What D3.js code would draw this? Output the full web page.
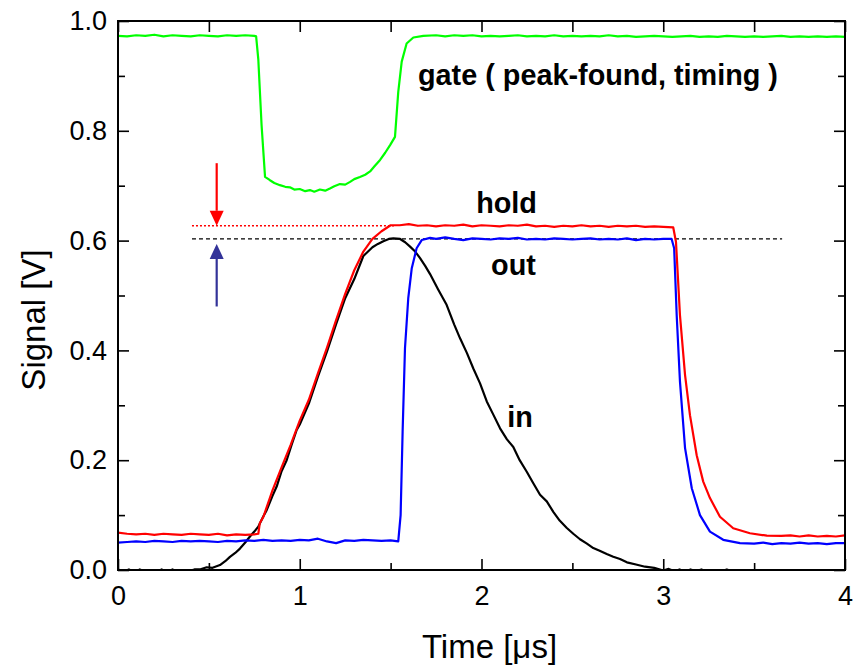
<!DOCTYPE html>
<html lang="en">
<head>
    <meta charset="UTF-8">
    <title>Peak hold signals</title>
    <script src="https://d3js.org/d3.v7.min.js"></script>
    <style>
        body { margin: 0; background: #fff; }
        text { font-family: "Liberation Sans", Arial, sans-serif; }
    </style>
</head>
<body>
    <div id="chart"></div>

    <script>
        // time in us, signal in V
        const gate = [
            [0, .973], [0.05, .972], [0.1, .974], [0.15, .973], [0.2, .975], [0.25, .972], [0.3, .974], [0.35, .973],
            [0.4, .972], [0.45, .974], [0.5, .973], [0.55, .972], [0.6, .974], [0.65, .973], [0.7, .974], [0.75, .973],
            [0.76, .972], [0.772, .93], [0.79, .81], [0.809, .716], [0.836, .710], [0.86, .705], [0.891, .701],
            [0.92, .698], [0.946, .697], [0.97, .693], [1.0, .694], [1.03, .690], [1.056, .692], [1.08, .689],
            [1.111, .693], [1.14, .691], [1.166, .695], [1.19, .699], [1.221, .703], [1.25, .702], [1.277, .707],
            [1.3, .712], [1.331, .716], [1.36, .720], [1.387, .726], [1.41, .735], [1.442, .747], [1.47, .760],
            [1.497, .774], [1.524, .789], [1.542, .871], [1.561, .926], [1.588, .959], [1.625, .970], [1.68, .973],
            [1.75, .974], [1.8, .972], [1.85, .974], [1.9, .973], [1.95, .974], [2.0, .972], [2.05, .973], [2.1, .972],
            [2.15, .973], [2.2, .974], [2.25, .972], [2.3, .973], [2.35, .972], [2.4, .974], [2.45, .972], [2.5, .973],
            [2.55, .972], [2.6, .973], [2.65, .972], [2.7, .974], [2.75, .972], [2.8, .973], [2.85, .971], [2.9, .972],
            [2.95, .973], [3.0, .972], [3.05, .971], [3.1, .972], [3.15, .973], [3.2, .971], [3.25, .972], [3.3, .971],
            [3.35, .973], [3.4, .972], [3.45, .971], [3.5, .972], [3.55, .971], [3.6, .972], [3.65, .973], [3.7, .971],
            [3.75, .972], [3.8, .971], [3.85, .972], [3.9, .971], [3.95, .972], [4.0, .971]
        ];

        const hold = [
            [0, .068], [0.05, .066], [0.1, .065], [0.15, .066], [0.2, .064], [0.25, .066], [0.3, .065], [0.35, .064],
            [0.4, .066], [0.45, .065], [0.5, .064], [0.55, .066], [0.6, .063], [0.65, .065], [0.7, .064], [0.75, .065],
            [0.772, .066], [0.78, .085], [0.8, .097], [0.85, .145], [0.9, .187], [0.95, .228], [1.0, .272], [1.05, .310],
            [1.1, .358], [1.15, .405], [1.2, .455], [1.25, .503], [1.3, .546], [1.35, .580], [1.4, .603], [1.45, .617],
            [1.5, .628], [1.55, .628], [1.6, .630], [1.65, .627], [1.7, .628], [1.75, .626], [1.8, .628], [1.85, .627],
            [1.9, .629], [1.95, .626], [2.0, .628], [2.05, .627], [2.1, .626], [2.15, .628], [2.2, .627], [2.25, .629],
            [2.3, .626], [2.35, .627], [2.4, .625], [2.45, .627], [2.5, .626], [2.55, .628], [2.6, .626], [2.65, .627],
            [2.7, .625], [2.75, .627], [2.8, .626], [2.85, .627], [2.9, .625], [2.95, .626], [3.0, .625], [3.055, .624],
            [3.07, .598], [3.092, .464], [3.12, .355], [3.147, .282], [3.184, .209], [3.22, .161], [3.257, .131],
            [3.312, .097], [3.385, .076], [3.477, .067], [3.57, .0625], [3.65, .062], [3.7, .063], [3.75, .061],
            [3.8, .063], [3.85, .061], [3.9, .062], [3.95, .061], [4.0, .063]
        ];

        const out = [
            [0, .050], [0.05, .051], [0.1, .052], [0.15, .051], [0.2, .053], [0.25, .052], [0.3, .051], [0.35, .053],
            [0.4, .052], [0.45, .053], [0.5, .052], [0.55, .051], [0.6, .053], [0.65, .052], [0.7, .054], [0.75, .053],
            [0.8, .055], [0.85, .053], [0.9, .054], [0.95, .053], [1.0, .055], [1.05, .054], [1.1, .057], [1.15, .052],
            [1.2, .049], [1.25, .054], [1.3, .053], [1.35, .055], [1.4, .054], [1.45, .053], [1.5, .054], [1.542, .052],
            [1.555, .100], [1.566, .252], [1.579, .404], [1.597, .495], [1.616, .549], [1.643, .586], [1.671, .601],
            [1.717, .605], [1.75, .603], [1.8, .606], [1.85, .603], [1.9, .601], [1.95, .604], [2.0, .603], [2.05, .602],
            [2.1, .604], [2.15, .603], [2.2, .605], [2.25, .602], [2.3, .603], [2.35, .602], [2.4, .604], [2.45, .603],
            [2.5, .602], [2.55, .603], [2.6, .604], [2.65, .602], [2.7, .603], [2.75, .602], [2.8, .604], [2.85, .601],
            [2.9, .603], [2.95, .602], [3.0, .603], [3.046, .603], [3.06, .586], [3.074, .464], [3.092, .343],
            [3.12, .222], [3.157, .149], [3.202, .100], [3.257, .070], [3.33, .055], [3.422, .049], [3.5, .048],
            [3.55, .050], [3.6, .047], [3.65, .049], [3.7, .048], [3.75, .050], [3.8, .048], [3.85, .049], [3.9, .047],
            [3.95, .049], [4.0, .049]
        ];

        const input = [
            [0, .001], [0.03, -.003], [0.06, .001], [0.09, -.004], [0.12, .001], [0.15, -.003], [0.18, .000],
            [0.21, -.004], [0.24, .001], [0.27, -.003], [0.3, .001], [0.33, -.005], [0.36, -.006], [0.39, -.002],
            [0.42, .001], [0.45, .001], [0.488, .005], [0.52, .004], [0.561, .009], [0.59, .016], [0.616, .024],
            [0.645, .031], [0.671, .039], [0.7, .050], [0.726, .061], [0.75, .070], [0.772, .079], [0.8, .098],
            [0.818, .109], [0.85, .135], [0.873, .152], [0.9, .180], [0.928, .200], [0.955, .228], [0.983, .255],
            [1.0, .265], [1.05, .303], [1.1, .352], [1.15, .398], [1.2, .448], [1.25, .495], [1.3, .530], [1.35, .572],
            [1.4, .588], [1.43, .594], [1.46, .599], [1.49, .603], [1.515, .604], [1.552, .603], [1.58, .597],
            [1.607, .589], [1.635, .580], [1.662, .568], [1.69, .554], [1.717, .539], [1.76, .512], [1.808, .483],
            [1.85, .447], [1.882, .422], [1.92, .395], [1.955, .367], [1.992, .340], [2.029, .307], [2.065, .283],
            [2.102, .258], [2.14, .238], [2.175, .224], [2.21, .200], [2.249, .179], [2.285, .158], [2.322, .137],
            [2.359, .125], [2.395, .106], [2.43, .090], [2.468, .077], [2.505, .066], [2.542, .056], [2.58, .048],
            [2.615, .040], [2.65, .035], [2.689, .029], [2.725, .024], [2.762, .020], [2.8, .014], [2.85, .010],
            [2.9, .006], [2.95, .004], [2.982, .001], [3.0, -.001], [3.03, .002], [3.06, -.002], [3.09, .001],
            [3.12, -.003], [3.15, .001], [3.18, -.002], [3.21, .001], [3.24, -.003], [3.27, .000], [3.3, -.004],
            [3.35, .001], [3.4, -.005], [3.5, -.006], [3.6, -.005], [3.7, -.006], [3.8, -.004], [3.85, .000],
            [3.9, -.005], [4.0, -.006]
        ];

        const xTicks = [0, 1, 2, 3, 4];
        const yTicks = [0, 0.2, 0.4, 0.6, 0.8, 1.0];

        // reference levels: hold level (dotted) and peak level (dashed)
        const holdLevel = 0.627, holdFrom = 0.407, holdTo = 1.52;
        const peakLevel = 0.603, peakFrom = 0.407, peakTo = 3.654;
        // arrows at t = 0.543
        const arrows = [
            { t: 0.543, from: 0.741, to: 0.627, color: "#ff0000" },
            { t: 0.543, from: 0.480, to: 0.594, color: "#333399" }
        ];

        const labels = [
            { text: "gate ( peak-found, timing )", t: 2.641, v: 0.883 },
            { text: "hold", t: 2.138, v: 0.650 },
            { text: "out", t: 2.176, v: 0.537 },
            { text: "in", t: 2.212, v: 0.260 }
        ];

        const width = 860, height = 668;
        const margin = { top: 21, right: 15, bottom: 98, left: 118 };
        const w = width - margin.left - margin.right;
        const h = height - margin.top - margin.bottom;

        const x = d3.scaleLinear().domain([0, 4]).range([0, w]);
        const y = d3.scaleLinear().domain([0, 1]).range([h, 0]);

        const svg = d3.select("#chart").append("svg")
            .attr("width", width)
            .attr("height", height);

        const g = svg.append("g")
            .attr("transform", `translate(${margin.left},${margin.top})`);

        g.append("clipPath").attr("id", "clip")
            .append("rect").attr("width", w).attr("height", h);

        // axes, ticks pointing inward
        const minorX = d3.range(0.5, 4, 1);
        const minorY = d3.range(0.1, 1, 0.2);

        function styleAxis(sel) {
            sel.select(".domain").remove();
            sel.selectAll("line").attr("stroke", "#000").attr("stroke-width", 1.6);
            sel.selectAll("text").attr("font-size", 27).attr("fill", "#000")
                .style("font-family", '"Liberation Sans", Arial, sans-serif');
        }

        g.append("g").attr("transform", `translate(0,${h})`)
            .call(d3.axisBottom(x).tickValues(xTicks).tickSize(-11).tickPadding(16).tickFormat(d3.format("d")))
            .call(styleAxis);
        g.append("g").attr("transform", `translate(0,${h})`)
            .call(d3.axisBottom(x).tickValues(minorX).tickSize(-7).tickFormat(""))
            .call(styleAxis);
        g.append("g")
            .call(d3.axisTop(x).tickValues(xTicks.concat(minorX)).tickSize(-11).tickFormat(""))
            .call(styleAxis);

        g.append("g")
            .call(d3.axisLeft(y).tickValues(yTicks).tickSize(-11).tickPadding(11).tickFormat(d3.format(".1f")))
            .call(styleAxis);
        g.append("g")
            .call(d3.axisLeft(y).tickValues(minorY).tickSize(-7).tickFormat(""))
            .call(styleAxis);
        g.append("g").attr("transform", `translate(${w},0)`)
            .call(d3.axisRight(y).tickValues(yTicks).tickSize(-11).tickFormat(""))
            .call(styleAxis);
        g.append("g").attr("transform", `translate(${w},0)`)
            .call(d3.axisRight(y).tickValues(minorY).tickSize(-7).tickFormat(""))
            .call(styleAxis);

        // reference lines
        g.append("line")
            .attr("x1", x(holdFrom)).attr("x2", x(holdTo))
            .attr("y1", y(holdLevel)).attr("y2", y(holdLevel))
            .attr("stroke", "#ff0000").attr("stroke-width", 1.5)
            .attr("stroke-dasharray", "2,2");
        g.append("line")
            .attr("x1", x(peakFrom)).attr("x2", x(peakTo))
            .attr("y1", y(peakLevel)).attr("y2", y(peakLevel))
            .attr("stroke", "#000").attr("stroke-width", 1.2)
            .attr("stroke-dasharray", "4,3");

        // traces
        const line = d3.line().x(d => x(d[0])).y(d => y(d[1]));
        const traces = [
            { data: input, color: "#000000" },
            { data: out, color: "#0000ff" },
            { data: hold, color: "#ff0000" },
            { data: gate, color: "#00ff00" }
        ];
        g.append("g").attr("clip-path", "url(#clip)")
            .selectAll("path")
            .data(traces)
            .join("path")
            .attr("fill", "none")
            .attr("stroke", d => d.color)
            .attr("stroke-width", 2.2)
            .attr("stroke-linejoin", "round")
            .attr("d", d => line(d.data));

        // arrows
        arrows.forEach(a => {
            const ax = x(a.t), y0 = y(a.from), y1 = y(a.to);
            const dir = y1 > y0 ? 1 : -1;
            const headLen = 15, headW = 7;
            g.append("line")
                .attr("x1", ax).attr("x2", ax)
                .attr("y1", y0).attr("y2", y1 - dir * headLen)
                .attr("stroke", a.color).attr("stroke-width", 2.2);
            g.append("path")
                .attr("d", `M${ax},${y1} L${ax - headW},${y1 - dir * headLen} L${ax + headW},${y1 - dir * headLen} Z`)
                .attr("fill", a.color);
        });

        // frame
        g.append("rect")
            .attr("width", w).attr("height", h)
            .attr("fill", "none").attr("stroke", "#000").attr("stroke-width", 2);

        // curve labels
        g.append("g").selectAll("text")
            .data(labels)
            .join("text")
            .attr("x", d => x(d.t))
            .attr("y", d => y(d.v))
            .attr("text-anchor", "middle")
            .attr("font-size", 28.8)
            .attr("font-weight", "bold")
            .text(d => d.text);

        // axis titles
        svg.append("text")
            .attr("x", margin.left + w / 2 + 8)
            .attr("y", 658)
            .attr("text-anchor", "middle")
            .attr("font-size", 33)
            .text("Time [μs]");
        svg.append("text")
            .attr("transform", "translate(45,320) rotate(-90)")
            .attr("text-anchor", "middle")
            .attr("font-size", 33)
            .text("Signal [V]");
    </script>
</body>
</html>
